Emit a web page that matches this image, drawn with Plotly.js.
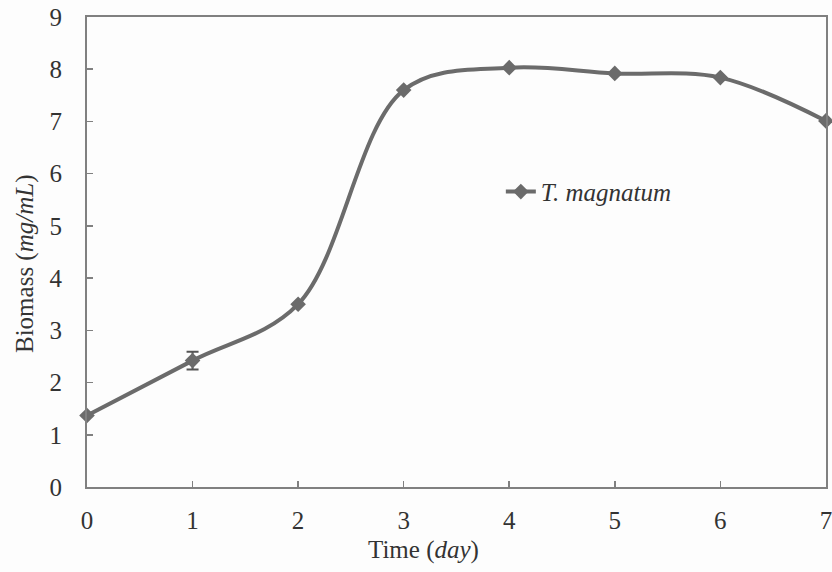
<!DOCTYPE html>
<html>
<head>
<meta charset="utf-8">
<script src="https://cdn.plot.ly/plotly-3.0.1.min.js"></script>
<style>html,body{margin:0;padding:0;background:#fdfdfd;}</style>
</head>
<body>
<div id="chart" style="width:832px;height:572px;"></div>
<script>
var days = [0, 1, 2, 3, 4, 5, 6, 7];
var biomass = [1.37, 2.42, 3.50, 7.60, 8.03, 7.92, 7.84, 7.01];
var biomassErr = [0, 0.17, 0, 0, 0, 0, 0, 0];
var seriesName = 'T. magnatum';
var xTickVals = [0, 1, 2, 3, 4, 5, 6, 7];
var yTickVals = [0, 1, 2, 3, 4, 5, 6, 7, 8, 9];

var font = {family: '"Liberation Serif", "Times New Roman", serif', size: 25, color: '#333333'};

var trace = {
  x: days, y: biomass, type: 'scatter', mode: 'lines+markers',
  name: '<i>' + seriesName + '</i>',
  line: {shape: 'spline', smoothing: 1, color: '#6b6b6b', width: 4},
  marker: {symbol: 'diamond', size: 12, color: '#6b6b6b'},
  error_y: {type: 'data', array: biomassErr, visible: true, color: '#555555', thickness: 2, width: 6},
  cliponaxis: false
};

var layout = {
  width: 832, height: 572,
  margin: {l: 87, r: 6, t: 17, b: 85},
  paper_bgcolor: '#fdfdfd', plot_bgcolor: '#fdfdfd',
  font: font,
  showlegend: true,
  legend: {x: 0.56, y: 0.628, xanchor: 'left', yanchor: 'middle', bgcolor: 'rgba(0,0,0,0)', font: font},
  xaxis: {
    range: [0, 7.001], tickvals: xTickVals, ticks: 'inside', ticklen: 6, tickcolor: '#808080', tickwidth: 1.5,
    showline: true, linecolor: '#808080', linewidth: 2, mirror: true, showgrid: false, zeroline: false,
    ticklabelstandoff: 10, ticklabeloverflow: 'allow', tickfont: font
  },
  yaxis: {
    range: [0, 9], tickvals: yTickVals, ticks: 'inside', ticklen: 6, tickcolor: '#808080', tickwidth: 1.5,
    showline: true, linecolor: '#808080', linewidth: 2, mirror: true, showgrid: false, zeroline: false,
    ticklabelstandoff: 18, tickfont: font
  },
  annotations: [
    {text: 'Time (<i>day</i>)', xref: 'paper', yref: 'paper', x: (423 - 87) / 739, y: -0.135, xanchor: 'center', yanchor: 'middle', showarrow: false, font: font},
    {text: 'Biomass (<i>mg/mL</i>)', xref: 'paper', yref: 'paper', x: (25 - 87) / 739, y: (487 - 264) / 470, xanchor: 'center', yanchor: 'middle', textangle: -90, showarrow: false, font: font}
  ]
};

Plotly.newPlot('chart', [trace], layout, {displayModeBar: false, staticPlot: true});
</script>
</body>
</html>
